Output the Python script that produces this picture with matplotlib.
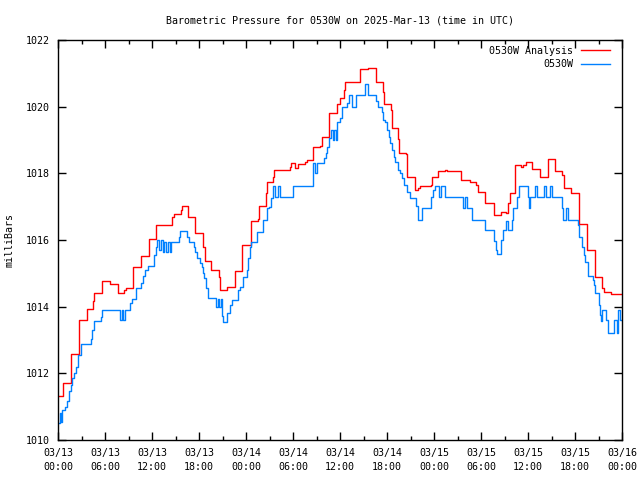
import numpy as np
import pandas as pd
import matplotlib
matplotlib.use('Agg')
import matplotlib.pyplot as plt
from matplotlib.ticker import MultipleLocator

# hours since 03/13 00:00 UTC and pressure (mb), step values
analysis_hours = [0.0, 0.6, 1.6, 1.7, 2.65, 2.7, 3.7, 4.5, 4.6, 5.6, 6.6, 7.65, 8.4, 8.7,
                  9.6, 10.55, 11.6, 12.5, 14.6, 14.8, 15.65, 15.8, 16.55, 17.5, 18.55, 18.75,
                  19.5, 20.5, 20.7, 21.6, 22.6, 23.45, 24.6, 24.7, 25.5, 25.66, 26.6, 26.65,
                  27.5, 27.6, 29.6, 29.8, 30.3, 30.6, 31.5, 31.75, 32.55, 33.45, 33.65, 34.55,
                  34.6, 35.6, 36.0, 36.5, 36.6, 37.9, 38.55, 39.6, 40.55, 41.5, 41.65, 42.45,
                  42.6, 43.45, 43.5, 44.4, 44.6, 45.6, 45.9, 46.2, 47.6, 47.7, 48.35, 48.55,
                  49.4, 49.6, 51.5, 52.6, 53.4, 53.6, 54.5, 55.6, 56.55, 57.2, 57.5, 57.7,
                  58.4, 59.1, 59.3, 59.7, 60.5, 61.5, 62.55, 63.5, 64.35, 64.55, 65.5, 66.45,
                  67.5, 68.6, 69.45, 69.65, 70.55, 72.0]
analysis_mb = [1011.32, 1011.72, 1012.12, 1012.57, 1013.10, 1013.60, 1013.92, 1014.18, 1014.40,
               1014.76, 1014.68, 1014.40, 1014.50, 1014.56, 1015.20, 1015.52, 1016.02, 1016.45,
               1016.70, 1016.77, 1016.90, 1017.02, 1016.70, 1016.22, 1015.78, 1015.37, 1015.10,
               1014.88, 1014.50, 1014.60, 1015.07, 1015.84, 1016.22, 1016.58, 1016.62, 1017.02,
               1017.40, 1017.74, 1017.90, 1018.09, 1018.20, 1018.30, 1018.15, 1018.28, 1018.35,
               1018.40, 1018.80, 1018.82, 1019.10, 1019.45, 1019.82, 1020.07, 1020.27, 1020.50,
               1020.73, 1020.75, 1021.12, 1021.16, 1020.74, 1020.43, 1020.08, 1019.90, 1019.35,
               1019.02, 1018.62, 1018.58, 1017.88, 1017.50, 1017.55, 1017.62, 1017.65, 1017.88,
               1017.90, 1018.08, 1018.10, 1018.08, 1017.80, 1017.73, 1017.66, 1017.45, 1017.10,
               1016.75, 1016.85, 1016.80, 1017.10, 1017.42, 1018.25, 1018.20, 1018.25, 1018.35,
               1018.12, 1017.90, 1018.42, 1018.08, 1017.95, 1017.57, 1017.40, 1016.48, 1015.70,
               1014.88, 1014.55, 1014.45, 1014.37, 1014.37]

obs_hours = [0.0, 0.2, 0.4, 0.55, 0.9, 1.1, 1.4, 1.6, 1.8, 2.0, 2.3, 2.5, 2.9, 4.2, 4.4, 4.6,
             5.45, 5.6, 7.9, 8.15, 8.3, 8.55, 9.2, 9.4, 10.0, 10.6, 10.8, 11.1, 11.5,
             12.25, 12.5, 12.7, 12.95, 13.15, 13.35, 13.55, 13.8, 14.0, 14.25, 14.45,
             14.6, 15.4, 15.6, 16.5, 16.75, 17.3, 17.5, 17.8, 18.1, 18.35, 18.55, 18.65, 18.9,
             19.2, 20.2, 20.4, 20.55, 20.75, 20.9, 21.1, 21.6, 21.95, 22.2, 23.0, 23.2, 23.65,
             24.1, 24.3, 24.5, 24.7, 25.36, 26.2, 26.7, 26.95, 27.2, 27.45, 27.75, 28.05, 28.3,
             30.0, 32.5, 32.85, 33.1, 34.0, 34.2, 34.4, 34.6, 34.85, 35.05, 35.25, 35.45,
             35.6, 36.0, 36.2, 36.9, 37.2, 37.5, 38.0, 39.2, 39.6, 40.6, 40.8,
             41.3, 41.5, 41.7, 41.95, 42.25, 42.4, 42.6, 42.9, 43.0, 43.45, 43.65, 43.9, 44.2,
             44.5, 44.9, 45.7, 45.9, 46.5, 47.6, 47.85, 48.1, 48.35, 48.65, 48.95, 49.4,
             51.7, 51.95, 52.2, 52.9, 53.65, 54.5, 55.6, 55.9, 56.1, 56.6, 56.85, 57.15,
             57.4, 57.9, 58.1, 58.55, 58.85, 59.95, 60.1, 60.3, 60.85, 61.2, 62.0, 62.25,
             62.8, 63.0, 64.3, 64.5, 64.9, 65.15, 66.4, 66.45, 66.95, 67.15, 67.3, 67.65,
             68.3, 68.4, 68.6, 69.0, 69.15, 69.3, 69.45, 69.9, 70.2, 70.95, 71.3, 71.55, 71.8, 72.0]
obs_mb = [1010.50, 1010.80, 1010.55, 1010.90, 1011.00, 1011.18, 1011.48, 1011.65, 1011.85,
          1012.00, 1012.18, 1012.55, 1012.88, 1013.02, 1013.30, 1013.56, 1013.70, 1013.90,
          1013.60, 1013.90, 1013.60, 1013.90, 1014.10, 1014.22, 1014.55,
          1014.72, 1014.92, 1015.10, 1015.23, 1015.55, 1015.80, 1016.00, 1015.70, 1016.00,
          1015.65, 1015.95, 1015.65, 1015.95, 1015.65, 1015.95, 1015.93,
          1016.10, 1016.26, 1016.10, 1015.93, 1015.80, 1015.65, 1015.45, 1015.30, 1015.18,
          1015.00, 1014.85, 1014.55, 1014.25, 1014.00, 1014.22, 1014.00, 1014.22, 1013.72,
          1013.55, 1013.80, 1014.05, 1014.20, 1014.50, 1014.60, 1014.90, 1015.10, 1015.45,
          1015.80, 1015.95, 1016.25, 1016.60, 1016.95, 1017.00, 1017.25, 1017.62, 1017.30,
          1017.62, 1017.30, 1017.62, 1018.30, 1018.00, 1018.30, 1018.45, 1018.60, 1018.80,
          1019.05, 1019.30, 1019.00, 1019.30, 1019.00, 1019.55,
          1019.65, 1019.98, 1020.12, 1020.35, 1020.00, 1020.35, 1020.68, 1020.35, 1020.18,
          1020.00, 1019.85, 1019.60, 1019.55, 1019.30, 1019.10, 1018.90, 1018.70, 1018.50,
          1018.35, 1018.10, 1018.00, 1017.85, 1017.65, 1017.45, 1017.25, 1017.02, 1016.60,
          1016.95, 1017.30, 1017.50, 1017.62, 1017.62, 1017.30, 1017.62, 1017.30,
          1016.95, 1017.30, 1016.95, 1016.60, 1016.60, 1016.30, 1015.98, 1015.70,
          1015.58, 1016.00, 1016.30, 1016.58, 1016.30, 1016.60, 1016.95, 1017.30, 1017.62,
          1017.30, 1016.95, 1017.30, 1017.62, 1017.30, 1017.62, 1017.30, 1017.62, 1017.30,
          1016.95, 1016.60, 1016.95, 1016.60, 1016.45, 1016.10, 1015.80,
          1015.55, 1015.35, 1014.92, 1014.80, 1014.65, 1014.40, 1014.05, 1013.75, 1013.58,
          1013.90, 1013.60, 1013.22, 1013.60, 1013.22, 1013.90, 1013.60, 1013.60]

tick_hours = list(range(0, 73, 6))
tick_labels = [d.strftime('%m/%d\n%H:%M')
               for d in pd.date_range('2025-03-13 00:00', '2025-03-16 00:00', freq='6h')]
y_ticks = [1010, 1012, 1014, 1016, 1018, 1020, 1022]

font = 'DejaVu Sans Mono'
fs = 7.2

fig = plt.figure(figsize=(6.4, 4.8), dpi=100)
ax = fig.add_axes([58 / 640, 40 / 480, 564 / 640, 400 / 480])

ax.plot(analysis_hours, analysis_mb, drawstyle='steps-post', color='#ff0000', lw=1.0,
        label='0530W Analysis')
ax.plot(obs_hours, obs_mb, drawstyle='steps-post', color='#0080ff', lw=1.0, label='0530W')

ax.set_xlim(0, 72)
ax.set_ylim(1010, 1022)
ax.set_xticks(tick_hours)
ax.set_xticklabels(tick_labels, fontfamily=font, fontsize=fs, linespacing=1.5)
ax.xaxis.set_minor_locator(MultipleLocator(3))
ax.set_yticks(y_ticks)
ax.set_yticklabels([str(v) for v in y_ticks], fontfamily=font, fontsize=fs)
ax.tick_params(which='both', direction='in', top=True, right=True, width=1.0, color='black')
ax.tick_params(which='major', length=6, pad=6)
ax.tick_params(which='minor', length=3)
for s in ax.spines.values():
    s.set_linewidth(1.0)

ax.set_title('Barometric Pressure for 0530W on 2025-Mar-13 (time in UTC)',
             fontfamily=font, fontsize=fs, pad=12)
ax.set_ylabel('milliBars', fontfamily=font, fontsize=fs, labelpad=8)

ax.legend(loc='upper right', bbox_to_anchor=(0.986, 0.996), frameon=False,
          markerfirst=False, handlelength=2.9, handletextpad=0.8, labelspacing=0.35,
          borderaxespad=0, prop={'family': font, 'size': fs})

fig.savefig('out.png', dpi=100)
